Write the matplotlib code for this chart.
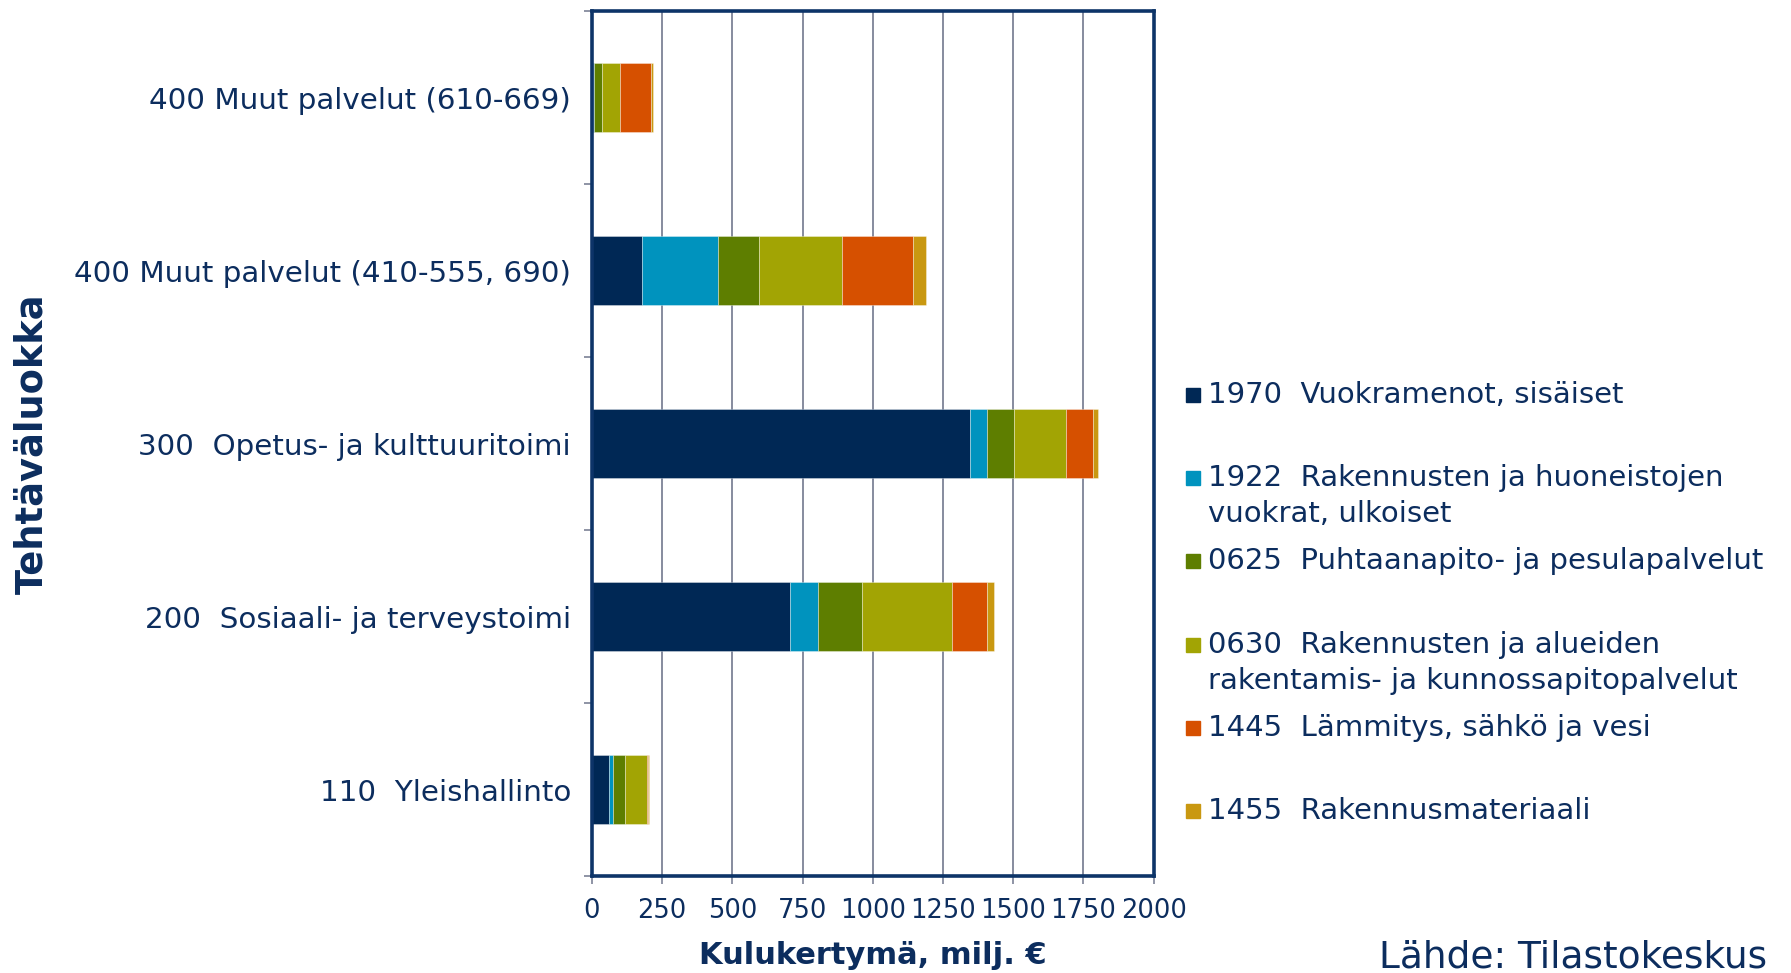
import matplotlib
matplotlib.use("Agg")
import matplotlib.pyplot as plt
from matplotlib.patches import Rectangle
import numpy as np

# categories, bottom to top
categories = [
    "110  Yleishallinto",
    "200  Sosiaali- ja terveystoimi",
    "300  Opetus- ja kulttuuritoimi",
    "400 Muut palvelut (410-555, 690)",
    "400 Muut palvelut (610-669)",
]

# series values, milj. €
vuokra_sisaiset = [62, 707, 1348, 180, 4]
vuokra_ulkoiset = [12, 97, 59, 268, 3]
puhtaanapito = [43, 157, 95, 148, 30]
rakentamis = [79, 322, 187, 294, 64]
lammitys = [5, 124, 94, 254, 108]
materiaali = [2, 23, 18, 45, 8]

series_labels = [
    "1970  Vuokramenot, sisäiset",
    "1922  Rakennusten ja huoneistojen\nvuokrat, ulkoiset",
    "0625  Puhtaanapito- ja pesulapalvelut",
    "0630  Rakennusten ja alueiden\nrakentamis- ja kunnossapitopalvelut",
    "1445  Lämmitys, sähkö ja vesi",
    "1455  Rakennusmateriaali",
]
series_colors = ["#002855", "#0093BE", "#5E7E00", "#A2A404", "#D65000", "#C99811"]

x_ticks = [0, 250, 500, 750, 1000, 1250, 1500, 1750, 2000]

text_col = "#0C2D5E"
spine_col = "#0D3468"
grid_col = "#868B9E"

plt.rcParams["font.family"] = ["DejaVu Sans"]

fig = plt.figure(figsize=(17.91, 9.73), dpi=100)
ax = fig.add_axes([0.3305, 0.0997, 0.3136, 0.8886])

series = [vuokra_sisaiset, vuokra_ulkoiset, puhtaanapito, rakentamis, lammitys, materiaali]
y = np.arange(len(categories))
left = np.zeros(len(categories))
for vals, col in zip(series, series_colors):
    vals = np.array(vals, dtype=float)
    ax.barh(y, vals, left=left, height=0.4, color=col,
            edgecolor=(1, 1, 1, 0.35), linewidth=0.7, zorder=2)
    left += vals

ax.set_xlim(0, 2000)
ax.set_ylim(-0.5, len(categories) - 0.5)
ax.set_xticks(x_ticks)
ax.set_xticklabels([str(t) for t in x_ticks])
ax.set_yticks(y)
ax.set_yticklabels(categories)
ax.set_yticks(np.arange(-0.5, len(categories)), minor=True)

ax.xaxis.grid(True, color=grid_col, linewidth=1.4)
ax.set_axisbelow(True)

ax.tick_params(axis="y", which="major", length=0, pad=15, labelsize=21.2, labelcolor=text_col)
ax.tick_params(axis="y", which="minor", length=6, width=1.3, color=grid_col)
ax.tick_params(axis="x", length=6, width=1.3, color=grid_col, pad=10,
               labelsize=18.5, labelcolor=text_col)

for s in ax.spines.values():
    s.set_color(spine_col)
    s.set_linewidth(2.6)

# axis titles
fig.text(32 / 1791, 1 - 444 / 973, "Tehtäväluokka", rotation=90, ha="center", va="center",
         fontsize=26.5, fontweight="bold", color=text_col)
fig.text(872.8 / 1791, 1 - 955 / 973, "Kulukertymä, milj. €", ha="center", va="center",
         fontsize=22, fontweight="bold", color=text_col)
fig.text(1767 / 1791, 1 - 957 / 973, "Lähde: Tilastokeskus", ha="right", va="center",
         fontsize=27, color=text_col)

# legend
y0 = 395
step = 83.2
line_h = 36
for i, (lab, col) in enumerate(zip(series_labels, series_colors)):
    yc = y0 + i * step
    fig.add_artist(Rectangle((1186 / 1791, 1 - (yc + 7) / 973), 14 / 1791, 14 / 973,
                             transform=fig.transFigure, color=col))
    for j, line in enumerate(lab.split("\n")):
        fig.text(1208 / 1791, 1 - (yc + j * line_h) / 973, line, ha="left", va="center",
                 fontsize=21, color=text_col)

fig.savefig("out.png", dpi=100)
